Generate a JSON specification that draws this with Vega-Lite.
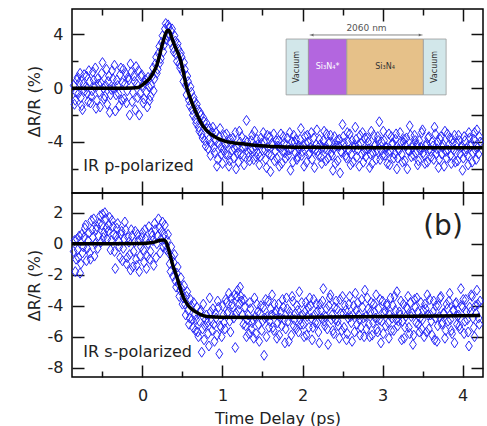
{
"$schema": "https://vega.github.io/schema/vega-lite/v6.json",
"autosize": "none",
"padding": {"left": 72, "top": 9, "right": 415, "bottom": 417},
"bounds": "flush",
"spacing": 0,
"config": {
 "concat": {"spacing": 0},
 "view": {"stroke": "black", "strokeWidth": 1.5},
 "font": "DejaVu Sans",
 "axis": {"domain": false, "grid": false, "tickColor": "#111", "tickWidth": 1.5, "labelFont": "DejaVu Sans", "labelFontSize": 16, "labelColor": "#222", "titleFont": "DejaVu Sans", "titleFontSize": 16, "titleFontWeight": "normal", "titleColor": "#222", "labelFlush": false, "labelExpr": "'' + datum.value"}
},
"datasets": {
"p": [
{"t":-0.86,"r":0.2},{"t":-0.84,"r":-0.9},{"t":-0.82,"r":0.6},{"t":-0.80,"r":-0.4},{"t":-0.78,"r":1.1},{"t":-0.76,"r":-1.3},{"t":-0.74,"r":0.3},{"t":-0.72,"r":-0.2},{"t":-0.70,"r":0.9},{"t":-0.68,"r":-1.0},{"t":-0.66,"r":0.5},{"t":-0.64,"r":-0.6},{"t":-0.62,"r":1.2},{"t":-0.60,"r":0.1},{"t":-0.58,"r":-1.5},{"t":-0.56,"r":0.7},{"t":-0.54,"r":-0.3},{"t":-0.52,"r":0.4},{"t":-0.50,"r":1.9},{"t":-0.48,"r":-0.8},{"t":-0.46,"r":0.2},{"t":-0.44,"r":-1.2},{"t":-0.42,"r":0.9},{"t":-0.40,"r":-0.5},{"t":-0.38,"r":1.3},{"t":-0.36,"r":0.0},{"t":-0.34,"r":-1.7},{"t":-0.32,"r":0.6},{"t":-0.30,"r":-0.4},{"t":-0.28,"r":1.0},{"t":-0.26,"r":-0.9},{"t":-0.24,"r":1.4},{"t":-0.22,"r":0.3},{"t":-0.20,"r":-1.1},{"t":-0.18,"r":0.8},{"t":-0.16,"r":-2.0},{"t":-0.14,"r":1.2},{"t":-0.12,"r":-0.3},{"t":-0.10,"r":0.5},{"t":-0.08,"r":1.6},{"t":-0.06,"r":-0.7},{"t":-0.04,"r":-2.0},{"t":-0.02,"r":0.9},{"t":0.00,"r":0.2},{"t":0.02,"r":-0.8},{"t":0.04,"r":0.6},{"t":0.06,"r":-1.4},{"t":0.08,"r":0.1},
{"t":0.10,"r":-0.6},{"t":0.12,"r":0.9},{"t":0.14,"r":-0.2},{"t":0.16,"r":1.8},{"t":0.18,"r":1.1},{"t":0.20,"r":2.6},{"t":0.22,"r":1.9},{"t":0.24,"r":3.4},{"t":0.26,"r":2.7},{"t":0.28,"r":4.4},{"t":0.30,"r":3.6},{"t":0.32,"r":4.7},{"t":0.34,"r":3.9},{"t":0.36,"r":4.2},{"t":0.38,"r":3.0},{"t":0.40,"r":3.9},{"t":0.42,"r":2.5},{"t":0.44,"r":3.3},{"t":0.46,"r":1.8},{"t":0.48,"r":2.6},{"t":0.50,"r":1.2},{"t":0.52,"r":1.9},{"t":0.54,"r":0.2},{"t":0.56,"r":0.9},{"t":0.58,"r":-0.9},{"t":0.60,"r":0.1},{"t":0.62,"r":-1.6},{"t":0.64,"r":-0.7},{"t":0.66,"r":-2.3},{"t":0.68,"r":-1.2},{"t":0.70,"r":-2.9},{"t":0.72,"r":-1.8},{"t":0.74,"r":-3.4},{"t":0.76,"r":-2.2},{"t":0.78,"r":-3.9},{"t":0.80,"r":-2.6},{"t":0.82,"r":-4.5},{"t":0.84,"r":-3.0},{"t":0.86,"r":-4.1},{"t":0.88,"r":-2.9},{"t":0.90,"r":-4.8},{"t":0.92,"r":-3.3},{"t":0.94,"r":-5.3},{"t":0.96,"r":-3.6},{"t":0.98,"r":-4.4},{"t":1.00,"r":-5.6},
{"t":1.02,"r":-3.5},{"t":1.04,"r":-4.9},{"t":1.06,"r":-4.1},{"t":1.08,"r":-5.8},{"t":1.10,"r":-3.8},{"t":1.12,"r":-4.6},{"t":1.14,"r":-5.2},{"t":1.16,"r":-3.3},{"t":1.18,"r":-4.4},{"t":1.20,"r":-5.5},{"t":1.22,"r":-4.0},{"t":1.24,"r":-3.6},{"t":1.26,"r":-5.0},{"t":1.28,"r":-4.3},{"t":1.30,"r":-2.4},{"t":1.32,"r":-4.8},{"t":1.34,"r":-5.4},{"t":1.36,"r":-3.9},{"t":1.38,"r":-4.5},{"t":1.40,"r":-3.2},{"t":1.42,"r":-5.1},{"t":1.44,"r":-4.2},{"t":1.46,"r":-5.7},{"t":1.48,"r":-3.7},{"t":1.50,"r":-4.6},{"t":1.52,"r":-4.0},{"t":1.54,"r":-5.3},{"t":1.56,"r":-3.5},{"t":1.58,"r":-4.9},{"t":1.60,"r":-6.2},{"t":1.62,"r":-4.1},{"t":1.64,"r":-3.4},{"t":1.66,"r":-4.7},{"t":1.68,"r":-5.2},{"t":1.70,"r":-3.9},{"t":1.72,"r":-4.4},{"t":1.74,"r":-5.6},{"t":1.76,"r":-3.6},{"t":1.78,"r":-4.8},{"t":1.80,"r":-4.2},{"t":1.82,"r":-5.0},{"t":1.84,"r":-3.3},{"t":1.86,"r":-4.5},{"t":1.88,"r":-5.5},{"t":1.90,"r":-4.0},{"t":1.92,"r":-3.8},{"t":1.94,"r":-5.1},{"t":1.96,"r":-4.3},{"t":1.98,"r":-3.0},{"t":2.00,"r":-4.7},
{"t":2.02,"r":-5.8},{"t":2.04,"r":-4.1},{"t":2.06,"r":-3.5},{"t":2.08,"r":-4.9},{"t":2.10,"r":-4.4},{"t":2.12,"r":-5.3},{"t":2.14,"r":-3.7},{"t":2.16,"r":-4.6},{"t":2.18,"r":-3.1},{"t":2.20,"r":-5.0},{"t":2.22,"r":-4.2},{"t":2.24,"r":-5.6},{"t":2.26,"r":-3.9},{"t":2.28,"r":-4.5},{"t":2.30,"r":-3.4},{"t":2.32,"r":-5.2},{"t":2.34,"r":-4.0},{"t":2.36,"r":-4.8},{"t":2.38,"r":-6.1},{"t":2.40,"r":-3.6},{"t":2.42,"r":-4.3},{"t":2.44,"r":-5.4},{"t":2.46,"r":-3.8},{"t":2.48,"r":-4.7},{"t":2.50,"r":-2.7},{"t":2.52,"r":-4.1},{"t":2.54,"r":-5.0},{"t":2.56,"r":-3.3},{"t":2.58,"r":-4.6},{"t":2.60,"r":-5.7},{"t":2.62,"r":-3.9},{"t":2.64,"r":-4.4},{"t":2.66,"r":-2.9},{"t":2.68,"r":-5.1},{"t":2.70,"r":-4.2},{"t":2.72,"r":-3.5},{"t":2.74,"r":-4.9},{"t":2.76,"r":-5.5},{"t":2.78,"r":-3.7},{"t":2.80,"r":-4.5},{"t":2.82,"r":-4.0},{"t":2.84,"r":-5.9},{"t":2.86,"r":-3.2},{"t":2.88,"r":-4.8},{"t":2.90,"r":-4.3},{"t":2.92,"r":-5.3},{"t":2.94,"r":-3.6},{"t":2.96,"r":-2.5},{"t":2.98,"r":-4.6},{"t":3.00,"r":-5.0},
{"t":3.02,"r":-3.9},{"t":3.04,"r":-4.4},{"t":3.06,"r":-5.6},{"t":3.08,"r":-3.4},{"t":3.10,"r":-4.7},{"t":3.12,"r":-4.1},{"t":3.14,"r":-5.2},{"t":3.16,"r":-3.8},{"t":3.18,"r":-6.0},{"t":3.20,"r":-4.5},{"t":3.22,"r":-3.3},{"t":3.24,"r":-4.9},{"t":3.26,"r":-4.0},{"t":3.28,"r":-5.4},{"t":3.30,"r":-3.7},{"t":3.32,"r":-4.6},{"t":3.34,"r":-2.8},{"t":3.36,"r":-5.1},{"t":3.38,"r":-4.2},{"t":3.40,"r":-3.5},{"t":3.42,"r":-4.8},{"t":3.44,"r":-5.7},{"t":3.46,"r":-3.9},{"t":3.48,"r":-4.4},{"t":3.50,"r":-3.1},{"t":3.52,"r":-5.0},{"t":3.54,"r":-4.3},{"t":3.56,"r":-5.5},{"t":3.58,"r":-3.6},{"t":3.60,"r":-4.7},{"t":3.62,"r":-4.0},{"t":3.64,"r":-5.3},{"t":3.66,"r":-3.4},{"t":3.68,"r":-4.5},{"t":3.70,"r":-5.9},{"t":3.72,"r":-3.8},{"t":3.74,"r":-4.9},{"t":3.76,"r":-4.2},{"t":3.78,"r":-3.2},{"t":3.80,"r":-5.2},{"t":3.82,"r":-4.6},{"t":3.84,"r":-3.7},{"t":3.86,"r":-5.6},{"t":3.88,"r":-4.1},{"t":3.90,"r":-3.5},{"t":3.92,"r":-4.8},{"t":3.94,"r":-5.4},{"t":3.96,"r":-3.9},{"t":3.98,"r":-4.4},{"t":4.00,"r":-6.1},
{"t":4.02,"r":-3.6},{"t":4.04,"r":-4.7},{"t":4.06,"r":-5.0},{"t":4.08,"r":-3.3},{"t":4.10,"r":-4.3},{"t":4.12,"r":-5.5},{"t":4.14,"r":-3.8},{"t":4.16,"r":-4.6},{"t":4.18,"r":-3.1},{"t":4.20,"r":-4.9},{"t":4.22,"r":-4.0},
{"t":-0.85,"r":-1.2},{"t":-0.83,"r":-0.3},{"t":-0.81,"r":0.8},{"t":-0.79,"r":0.4},{"t":-0.77,"r":-0.7},{"t":-0.75,"r":-1.6},{"t":-0.73,"r":1.0},{"t":-0.71,"r":0.1},{"t":-0.69,"r":-0.4},{"t":-0.67,"r":1.3},{"t":-0.65,"r":-1.1},{"t":-0.63,"r":-0.2},{"t":-0.61,"r":0.6},{"t":-0.59,"r":1.5},{"t":-0.57,"r":-0.9},{"t":-0.55,"r":0.3},{"t":-0.53,"r":-1.4},{"t":-0.51,"r":1.1},{"t":-0.49,"r":0.0},{"t":-0.47,"r":-0.6},{"t":-0.45,"r":1.4},{"t":-0.43,"r":0.5},{"t":-0.41,"r":-1.8},{"t":-0.39,"r":-0.1},{"t":-0.37,"r":0.7},{"t":-0.35,"r":1.7},{"t":-0.33,"r":-0.5},{"t":-0.31,"r":0.2},{"t":-0.29,"r":-1.3},{"t":-0.27,"r":1.5},{"t":-0.25,"r":0.4},{"t":-0.23,"r":-0.8},{"t":-0.21,"r":1.1},{"t":-0.19,"r":-0.2},{"t":-0.17,"r":0.6},{"t":-0.15,"r":1.8},{"t":-0.13,"r":-1.0},{"t":-0.11,"r":0.9},{"t":-0.09,"r":-1.6},{"t":-0.07,"r":0.3},{"t":-0.05,"r":1.3},{"t":-0.03,"r":-0.4},{"t":-0.01,"r":1.0},{"t":0.01,"r":-1.1},{"t":0.03,"r":0.4},{"t":0.05,"r":-0.3},{"t":0.07,"r":0.8},{"t":0.09,"r":-0.9},
{"t":0.11,"r":0.2},{"t":0.13,"r":1.5},{"t":0.15,"r":0.7},{"t":0.17,"r":2.3},{"t":0.19,"r":1.4},{"t":0.21,"r":3.1},{"t":0.23,"r":2.2},{"t":0.25,"r":3.9},{"t":0.27,"r":3.2},{"t":0.29,"r":4.8},{"t":0.31,"r":3.9},{"t":0.33,"r":4.5},{"t":0.35,"r":3.4},{"t":0.37,"r":4.4},{"t":0.39,"r":2.7},{"t":0.41,"r":3.5},{"t":0.43,"r":2.0},{"t":0.45,"r":2.9},{"t":0.47,"r":1.5},{"t":0.49,"r":2.3},{"t":0.51,"r":0.5},{"t":0.53,"r":1.4},{"t":0.55,"r":-0.5},{"t":0.57,"r":0.5},{"t":0.59,"r":-1.3},{"t":0.61,"r":-0.3},{"t":0.63,"r":-2.0},{"t":0.65,"r":-1.0},{"t":0.67,"r":-2.6},{"t":0.69,"r":-1.6},{"t":0.71,"r":-3.2},{"t":0.73,"r":-2.0},{"t":0.75,"r":-3.7},{"t":0.77,"r":-2.5},{"t":0.79,"r":-4.3},{"t":0.81,"r":-3.0},{"t":0.83,"r":-3.8},{"t":0.85,"r":-5.0},{"t":0.87,"r":-3.3},{"t":0.89,"r":-4.4},{"t":0.91,"r":-3.9},{"t":0.93,"r":-5.8},{"t":0.95,"r":-4.1},{"t":0.97,"r":-3.0},{"t":0.99,"r":-4.9},
{"t":1.01,"r":-4.6},{"t":1.03,"r":-4.2},{"t":1.05,"r":-3.4},{"t":1.07,"r":-5.0},{"t":1.09,"r":-5.4},{"t":1.11,"r":-4.1},{"t":1.13,"r":-3.7},{"t":1.15,"r":-4.5},{"t":1.17,"r":-6.0},{"t":1.19,"r":-4.8},{"t":1.21,"r":-3.2},{"t":1.23,"r":-4.9},{"t":1.25,"r":-4.4},{"t":1.27,"r":-5.7},{"t":1.29,"r":-3.9},{"t":1.31,"r":-4.0},{"t":1.33,"r":-5.1},{"t":1.35,"r":-4.6},{"t":1.37,"r":-3.5},{"t":1.39,"r":-5.3},{"t":1.41,"r":-4.3},{"t":1.43,"r":-3.8},{"t":1.45,"r":-4.9},{"t":1.47,"r":-5.1},{"t":1.49,"r":-4.1},{"t":1.51,"r":-3.3},{"t":1.53,"r":-4.6},{"t":1.55,"r":-5.9},{"t":1.57,"r":-4.4},{"t":1.59,"r":-3.6},{"t":1.61,"r":-5.0},{"t":1.63,"r":-4.2},{"t":1.65,"r":-5.4},{"t":1.67,"r":-3.9},{"t":1.69,"r":-4.3},{"t":1.71,"r":-5.8},{"t":1.73,"r":-3.4},{"t":1.75,"r":-4.7},{"t":1.77,"r":-4.1},{"t":1.79,"r":-5.2},{"t":1.81,"r":-3.7},{"t":1.83,"r":-4.6},{"t":1.85,"r":-6.1},{"t":1.87,"r":-4.0},{"t":1.89,"r":-3.5},{"t":1.91,"r":-4.8},{"t":1.93,"r":-5.3},{"t":1.95,"r":-4.5},{"t":1.97,"r":-3.8},{"t":1.99,"r":-5.0},
{"t":2.01,"r":-4.3},{"t":2.03,"r":-3.6},{"t":2.05,"r":-5.5},{"t":2.07,"r":-4.0},{"t":2.09,"r":-4.8},{"t":2.11,"r":-3.3},{"t":2.13,"r":-4.5},{"t":2.15,"r":-5.9},{"t":2.17,"r":-4.2},{"t":2.19,"r":-4.7},{"t":2.21,"r":-3.8},{"t":2.23,"r":-5.1},{"t":2.25,"r":-4.4},{"t":2.27,"r":-3.2},{"t":2.29,"r":-5.4},{"t":2.31,"r":-4.6},{"t":2.33,"r":-4.1},{"t":2.35,"r":-3.5},{"t":2.37,"r":-5.0},{"t":2.39,"r":-4.5},{"t":2.41,"r":-5.6},{"t":2.43,"r":-3.9},{"t":2.45,"r":-4.3},{"t":2.47,"r":-6.3},{"t":2.49,"r":-4.8},{"t":2.51,"r":-3.6},{"t":2.53,"r":-4.4},{"t":2.55,"r":-5.2},{"t":2.57,"r":-4.0},{"t":2.59,"r":-3.4},{"t":2.61,"r":-4.9},{"t":2.63,"r":-5.5},{"t":2.65,"r":-4.2},{"t":2.67,"r":-3.8},{"t":2.69,"r":-4.6},{"t":2.71,"r":-5.8},{"t":2.73,"r":-4.1},{"t":2.75,"r":-3.3},{"t":2.77,"r":-4.7},{"t":2.79,"r":-5.1},{"t":2.81,"r":-3.7},{"t":2.83,"r":-4.5},{"t":2.85,"r":-4.9},{"t":2.87,"r":-5.6},{"t":2.89,"r":-3.5},{"t":2.91,"r":-4.2},{"t":2.93,"r":-4.6},{"t":2.95,"r":-3.9},{"t":2.97,"r":-5.3},{"t":2.99,"r":-4.0},
{"t":3.01,"r":-3.2},{"t":3.03,"r":-5.0},{"t":3.05,"r":-4.4},{"t":3.07,"r":-4.8},{"t":3.09,"r":-5.7},{"t":3.11,"r":-3.6},{"t":3.13,"r":-4.1},{"t":3.15,"r":-4.9},{"t":3.17,"r":-3.4},{"t":3.19,"r":-5.2},{"t":3.21,"r":-4.6},{"t":3.23,"r":-4.0},{"t":3.25,"r":-5.5},{"t":3.27,"r":-3.8},{"t":3.29,"r":-4.3},{"t":3.31,"r":-6.0},{"t":3.33,"r":-4.7},{"t":3.35,"r":-3.5},{"t":3.37,"r":-4.4},{"t":3.39,"r":-5.0},{"t":3.41,"r":-3.9},{"t":3.43,"r":-4.2},{"t":3.45,"r":-5.4},{"t":3.47,"r":-4.6},{"t":3.49,"r":-3.3},{"t":3.51,"r":-4.8},{"t":3.53,"r":-5.6},{"t":3.55,"r":-4.1},{"t":3.57,"r":-3.7},{"t":3.59,"r":-4.5},{"t":3.61,"r":-5.1},{"t":3.63,"r":-4.3},{"t":3.65,"r":-2.9},{"t":3.67,"r":-4.9},{"t":3.69,"r":-4.0},{"t":3.71,"r":-5.3},{"t":3.73,"r":-3.6},{"t":3.75,"r":-4.4},{"t":3.77,"r":-5.8},{"t":3.79,"r":-4.7},{"t":3.81,"r":-3.4},{"t":3.83,"r":-4.2},{"t":3.85,"r":-5.0},{"t":3.87,"r":-3.8},{"t":3.89,"r":-4.6},{"t":3.91,"r":-5.5},{"t":3.93,"r":-4.1},{"t":3.95,"r":-3.5},{"t":3.97,"r":-4.9},{"t":3.99,"r":-4.3},
{"t":4.01,"r":-5.2},{"t":4.03,"r":-3.9},{"t":4.05,"r":-4.5},{"t":4.07,"r":-5.7},{"t":4.09,"r":-3.7},{"t":4.11,"r":-4.1},{"t":4.13,"r":-4.8},{"t":4.15,"r":-3.3},{"t":4.17,"r":-5.3},{"t":4.19,"r":-4.4},{"t":4.21,"r":-3.6}
],
"pf": [
{"t":-0.88,"r":0},{"t":-0.5,"r":0},{"t":-0.2,"r":0},{"t":-0.05,"r":0.05},{"t":0.0,"r":0.25},{"t":0.05,"r":0.5},{"t":0.09,"r":0.73},{"t":0.13,"r":1.1},{"t":0.18,"r":1.72},{"t":0.21,"r":2.35},{"t":0.24,"r":3.08},{"t":0.27,"r":3.7},{"t":0.29,"r":4.07},{"t":0.32,"r":4.3},{"t":0.34,"r":4.2},{"t":0.36,"r":3.85},{"t":0.40,"r":3.2},{"t":0.44,"r":2.65},{"t":0.48,"r":2.0},{"t":0.51,"r":1.2},{"t":0.55,"r":0.1},{"t":0.60,"r":-0.8},{"t":0.64,"r":-1.4},{"t":0.70,"r":-2.2},{"t":0.76,"r":-2.85},{"t":0.85,"r":-3.4},{"t":0.93,"r":-3.7},{"t":1.05,"r":-3.97},{"t":1.22,"r":-4.12},{"t":1.40,"r":-4.25},{"t":1.60,"r":-4.33},{"t":2.0,"r":-4.4},{"t":3.0,"r":-4.43},{"t":4.25,"r":-4.43}
],
"s": [
{"t":-0.86,"r":-0.5},{"t":-0.84,"r":-1.8},{"t":-0.82,"r":0.3},{"t":-0.80,"r":-0.9},{"t":-0.78,"r":-1.9},{"t":-0.76,"r":0.6},{"t":-0.74,"r":-0.2},{"t":-0.72,"r":1.0},{"t":-0.70,"r":-1.1},{"t":-0.68,"r":0.2},{"t":-0.66,"r":-0.6},{"t":-0.64,"r":1.5},{"t":-0.62,"r":0.4},{"t":-0.60,"r":-0.8},{"t":-0.58,"r":0.9},{"t":-0.56,"r":-0.3},{"t":-0.54,"r":1.3},{"t":-0.52,"r":0.1},{"t":-0.50,"r":1.9},{"t":-0.48,"r":0.7},{"t":-0.46,"r":1.6},{"t":-0.44,"r":0.3},{"t":-0.42,"r":1.2},{"t":-0.40,"r":-0.4},{"t":-0.38,"r":1.5},{"t":-0.36,"r":0.6},{"t":-0.34,"r":-1.6},{"t":-0.32,"r":1.0},{"t":-0.30,"r":0.2},{"t":-0.28,"r":-0.9},{"t":-0.26,"r":0.8},{"t":-0.24,"r":-0.3},{"t":-0.22,"r":1.4},{"t":-0.20,"r":-1.3},{"t":-0.18,"r":0.4},{"t":-0.16,"r":-0.7},{"t":-0.14,"r":0.9},{"t":-0.12,"r":-1.5},{"t":-0.10,"r":0.1},{"t":-0.08,"r":-1.0},{"t":-0.06,"r":0.6},{"t":-0.04,"r":-1.8},{"t":-0.02,"r":-0.2},{"t":0.00,"r":0.7},{"t":0.02,"r":-1.2},{"t":0.04,"r":0.3},{"t":0.06,"r":-0.8},{"t":0.08,"r":1.1},{"t":0.10,"r":-0.5},{"t":0.12,"r":0.5},{"t":0.14,"r":-1.4},{"t":0.16,"r":0.9},{"t":0.18,"r":0.0},{"t":0.20,"r":1.6},{"t":0.22,"r":-0.6},{"t":0.24,"r":0.8},{"t":0.26,"r":-0.2},{"t":0.28,"r":1.2},
{"t":0.30,"r":-0.4},{"t":0.32,"r":0.6},{"t":0.34,"r":-1.3},{"t":0.36,"r":-0.2},{"t":0.38,"r":-2.1},{"t":0.40,"r":-0.7},{"t":0.42,"r":-2.8},{"t":0.44,"r":-1.5},{"t":0.46,"r":-3.4},{"t":0.48,"r":-2.2},{"t":0.50,"r":-3.9},{"t":0.52,"r":-2.7},{"t":0.54,"r":-4.6},{"t":0.56,"r":-3.1},{"t":0.58,"r":-5.2},{"t":0.60,"r":-3.6},{"t":0.62,"r":-4.9},{"t":0.64,"r":-3.8},{"t":0.66,"r":-5.6},{"t":0.68,"r":-4.1},{"t":0.70,"r":-6.0},{"t":0.72,"r":-4.4},{"t":0.74,"r":-7.0},{"t":0.76,"r":-3.9},{"t":0.78,"r":-5.3},{"t":0.80,"r":-4.6},{"t":0.82,"r":-5.8},{"t":0.84,"r":-3.5},{"t":0.86,"r":-5.0},{"t":0.88,"r":-4.2},{"t":0.90,"r":-6.3},{"t":0.92,"r":-4.8},{"t":0.94,"r":-3.7},{"t":0.96,"r":-7.1},{"t":0.98,"r":-5.4},{"t":1.00,"r":-4.0},
{"t":1.02,"r":-5.1},{"t":1.04,"r":-3.6},{"t":1.06,"r":-4.5},{"t":1.08,"r":-3.2},{"t":1.10,"r":-5.7},{"t":1.12,"r":-3.9},{"t":1.14,"r":-4.8},{"t":1.16,"r":-6.7},{"t":1.18,"r":-3.4},{"t":1.20,"r":-4.3},{"t":1.22,"r":-2.8},{"t":1.24,"r":-3.7},{"t":1.26,"r":-5.2},{"t":1.28,"r":-4.1},{"t":1.30,"r":-6.0},{"t":1.32,"r":-4.6},{"t":1.34,"r":-3.8},{"t":1.36,"r":-5.5},{"t":1.38,"r":-4.9},{"t":1.40,"r":-3.5},{"t":1.42,"r":-5.8},{"t":1.44,"r":-4.4},{"t":1.46,"r":-6.3},{"t":1.48,"r":-4.0},{"t":1.50,"r":-5.0},{"t":1.52,"r":-7.2},{"t":1.54,"r":-3.6},{"t":1.56,"r":-4.7},{"t":1.58,"r":-5.4},{"t":1.60,"r":-4.2},{"t":1.62,"r":-3.3},{"t":1.64,"r":-5.6},{"t":1.66,"r":-4.5},{"t":1.68,"r":-6.1},{"t":1.70,"r":-3.9},{"t":1.72,"r":-4.8},{"t":1.74,"r":-5.3},{"t":1.76,"r":-4.1},{"t":1.78,"r":-6.4},{"t":1.80,"r":-3.5},{"t":1.82,"r":-5.0},{"t":1.84,"r":-4.4},{"t":1.86,"r":-5.9},{"t":1.88,"r":-3.7},{"t":1.90,"r":-4.9},{"t":1.92,"r":-5.5},{"t":1.94,"r":-4.3},{"t":1.96,"r":-3.1},{"t":1.98,"r":-5.2},{"t":2.00,"r":-4.6},
{"t":2.02,"r":-6.0},{"t":2.04,"r":-3.8},{"t":2.06,"r":-4.7},{"t":2.08,"r":-5.4},{"t":2.10,"r":-4.0},{"t":2.12,"r":-6.2},{"t":2.14,"r":-3.6},{"t":2.16,"r":-5.1},{"t":2.18,"r":-4.4},{"t":2.20,"r":-5.7},{"t":2.22,"r":-3.9},{"t":2.24,"r":-4.8},{"t":2.26,"r":-2.9},{"t":2.28,"r":-5.3},{"t":2.30,"r":-4.2},{"t":2.32,"r":-6.5},{"t":2.34,"r":-3.5},{"t":2.36,"r":-4.9},{"t":2.38,"r":-5.6},{"t":2.40,"r":-4.1},{"t":2.42,"r":-3.7},{"t":2.44,"r":-5.0},{"t":2.46,"r":-6.1},{"t":2.48,"r":-4.5},{"t":2.50,"r":-3.4},{"t":2.52,"r":-5.4},{"t":2.54,"r":-4.3},{"t":2.56,"r":-5.8},{"t":2.58,"r":-3.9},{"t":2.60,"r":-4.7},{"t":2.62,"r":-6.3},{"t":2.64,"r":-4.0},{"t":2.66,"r":-3.2},{"t":2.68,"r":-5.2},{"t":2.70,"r":-4.6},{"t":2.72,"r":-5.9},{"t":2.74,"r":-3.6},{"t":2.76,"r":-4.8},{"t":2.78,"r":-3.0},{"t":2.80,"r":-5.5},{"t":2.82,"r":-4.2},{"t":2.84,"r":-6.0},{"t":2.86,"r":-3.8},{"t":2.88,"r":-5.1},{"t":2.90,"r":-4.4},{"t":2.92,"r":-3.3},{"t":2.94,"r":-5.7},{"t":2.96,"r":-4.9},{"t":2.98,"r":-6.4},{"t":3.00,"r":-3.7},
{"t":3.02,"r":-4.5},{"t":3.04,"r":-5.3},{"t":3.06,"r":-4.0},{"t":3.08,"r":-6.1},{"t":3.10,"r":-3.5},{"t":3.12,"r":-4.8},{"t":3.14,"r":-5.6},{"t":3.16,"r":-4.3},{"t":3.18,"r":-3.1},{"t":3.20,"r":-5.0},{"t":3.22,"r":-4.6},{"t":3.24,"r":-6.2},{"t":3.26,"r":-3.9},{"t":3.28,"r":-5.4},{"t":3.30,"r":-4.1},{"t":3.32,"r":-3.4},{"t":3.34,"r":-5.8},{"t":3.36,"r":-4.7},{"t":3.38,"r":-6.5},{"t":3.40,"r":-3.6},{"t":3.42,"r":-5.1},{"t":3.44,"r":-4.4},{"t":3.46,"r":-5.7},{"t":3.48,"r":-3.8},{"t":3.50,"r":-4.9},{"t":3.52,"r":-6.0},{"t":3.54,"r":-4.2},{"t":3.56,"r":-3.3},{"t":3.58,"r":-5.5},{"t":3.60,"r":-4.6},{"t":3.62,"r":-5.9},{"t":3.64,"r":-3.7},{"t":3.66,"r":-4.8},{"t":3.68,"r":-6.3},{"t":3.70,"r":-4.0},{"t":3.72,"r":-3.5},{"t":3.74,"r":-5.2},{"t":3.76,"r":-4.5},{"t":3.78,"r":-6.1},{"t":3.80,"r":-3.9},{"t":3.82,"r":-5.0},{"t":3.84,"r":-3.2},{"t":3.86,"r":-5.6},{"t":3.88,"r":-4.3},{"t":3.90,"r":-6.4},{"t":3.92,"r":-3.8},{"t":3.94,"r":-4.7},{"t":3.96,"r":-5.3},{"t":3.98,"r":-2.9},{"t":4.00,"r":-4.1},
{"t":4.02,"r":-5.8},{"t":4.04,"r":-3.6},{"t":4.06,"r":-4.9},{"t":4.08,"r":-6.6},{"t":4.10,"r":-4.4},{"t":4.12,"r":-3.4},{"t":4.14,"r":-5.4},{"t":4.16,"r":-4.0},{"t":4.18,"r":-3.0},{"t":4.20,"r":-4.8},{"t":4.22,"r":-3.7},
{"t":-0.85,"r":0.2},{"t":-0.83,"r":-1.0},{"t":-0.81,"r":-0.4},{"t":-0.79,"r":0.5},{"t":-0.77,"r":-1.3},{"t":-0.75,"r":-0.6},{"t":-0.73,"r":0.4},{"t":-0.71,"r":1.2},{"t":-0.69,"r":-0.3},{"t":-0.67,"r":0.7},{"t":-0.65,"r":-1.0},{"t":-0.63,"r":0.9},{"t":-0.61,"r":1.6},{"t":-0.59,"r":0.0},{"t":-0.57,"r":1.1},{"t":-0.55,"r":0.5},{"t":-0.53,"r":1.8},{"t":-0.51,"r":1.2},{"t":-0.49,"r":0.4},{"t":-0.47,"r":2.0},{"t":-0.45,"r":1.0},{"t":-0.43,"r":0.8},{"t":-0.41,"r":1.7},{"t":-0.39,"r":0.2},{"t":-0.37,"r":1.1},{"t":-0.35,"r":-0.5},{"t":-0.33,"r":0.5},{"t":-0.31,"r":1.3},{"t":-0.29,"r":-0.2},{"t":-0.27,"r":0.6},{"t":-0.25,"r":-1.1},{"t":-0.23,"r":0.3},{"t":-0.21,"r":0.9},{"t":-0.19,"r":-0.9},{"t":-0.17,"r":0.1},{"t":-0.15,"r":-1.7},{"t":-0.13,"r":0.5},{"t":-0.11,"r":-0.5},{"t":-0.09,"r":0.8},{"t":-0.07,"r":-1.4},{"t":-0.05,"r":0.2},{"t":-0.03,"r":-0.8},{"t":-0.01,"r":0.4},{"t":0.01,"r":-0.4},{"t":0.03,"r":0.9},{"t":0.05,"r":-1.6},{"t":0.07,"r":0.0},{"t":0.09,"r":-1.0},{"t":0.11,"r":0.7},{"t":0.13,"r":0.2},{"t":0.15,"r":1.3},{"t":0.17,"r":-0.9},{"t":0.19,"r":0.5},{"t":0.21,"r":1.0},{"t":0.23,"r":0.3},{"t":0.25,"r":1.4},{"t":0.27,"r":0.6},{"t":0.29,"r":-0.1},
{"t":0.31,"r":0.2},{"t":0.33,"r":-0.6},{"t":0.35,"r":-1.8},{"t":0.37,"r":-0.9},{"t":0.39,"r":-1.2},{"t":0.41,"r":-2.4},{"t":0.43,"r":-1.9},{"t":0.45,"r":-2.6},{"t":0.47,"r":-3.0},{"t":0.49,"r":-2.9},{"t":0.51,"r":-3.5},{"t":0.53,"r":-3.9},{"t":0.55,"r":-3.4},{"t":0.57,"r":-4.3},{"t":0.59,"r":-4.8},{"t":0.61,"r":-4.0},{"t":0.63,"r":-5.4},{"t":0.65,"r":-4.6},{"t":0.67,"r":-4.9},{"t":0.69,"r":-5.7},{"t":0.71,"r":-5.0},{"t":0.73,"r":-4.3},{"t":0.75,"r":-5.5},{"t":0.77,"r":-6.2},{"t":0.79,"r":-4.9},{"t":0.81,"r":-5.1},{"t":0.83,"r":-6.6},{"t":0.85,"r":-4.4},{"t":0.87,"r":-5.6},{"t":0.89,"r":-5.2},{"t":0.91,"r":-4.5},{"t":0.93,"r":-5.9},{"t":0.95,"r":-4.1},{"t":0.97,"r":-5.3},{"t":0.99,"r":-6.0},
{"t":1.01,"r":-4.6},{"t":1.03,"r":-5.5},{"t":1.05,"r":-3.8},{"t":1.07,"r":-4.4},{"t":1.09,"r":-5.0},{"t":1.11,"r":-3.5},{"t":1.13,"r":-4.1},{"t":1.15,"r":-3.3},{"t":1.17,"r":-4.5},{"t":1.19,"r":-3.0},{"t":1.21,"r":-3.9},{"t":1.23,"r":-3.4},{"t":1.25,"r":-4.6},{"t":1.27,"r":-3.6},{"t":1.29,"r":-5.3},{"t":1.31,"r":-4.9},{"t":1.33,"r":-5.8},{"t":1.35,"r":-4.2},{"t":1.37,"r":-5.1},{"t":1.39,"r":-6.1},{"t":1.41,"r":-4.7},{"t":1.43,"r":-3.9},{"t":1.45,"r":-5.2},{"t":1.47,"r":-4.5},{"t":1.49,"r":-5.6},{"t":1.51,"r":-4.1},{"t":1.53,"r":-4.8},{"t":1.55,"r":-6.0},{"t":1.57,"r":-3.7},{"t":1.59,"r":-5.0},{"t":1.61,"r":-4.6},{"t":1.63,"r":-5.4},{"t":1.65,"r":-3.9},{"t":1.67,"r":-4.3},{"t":1.69,"r":-5.1},{"t":1.71,"r":-5.9},{"t":1.73,"r":-4.4},{"t":1.75,"r":-3.6},{"t":1.77,"r":-4.9},{"t":1.79,"r":-5.5},{"t":1.81,"r":-4.2},{"t":1.83,"r":-6.3},{"t":1.85,"r":-4.7},{"t":1.87,"r":-3.4},{"t":1.89,"r":-5.3},{"t":1.91,"r":-4.5},{"t":1.93,"r":-4.0},{"t":1.95,"r":-5.7},{"t":1.97,"r":-4.9},{"t":1.99,"r":-3.8},
{"t":2.01,"r":-5.2},{"t":2.03,"r":-4.4},{"t":2.05,"r":-5.9},{"t":2.07,"r":-4.1},{"t":2.09,"r":-3.5},{"t":2.11,"r":-4.8},{"t":2.13,"r":-5.4},{"t":2.15,"r":-4.6},{"t":2.17,"r":-3.9},{"t":2.19,"r":-5.1},{"t":2.21,"r":-6.4},{"t":2.23,"r":-4.3},{"t":2.25,"r":-3.7},{"t":2.27,"r":-5.0},{"t":2.29,"r":-4.7},{"t":2.31,"r":-5.5},{"t":2.33,"r":-4.0},{"t":2.35,"r":-3.3},{"t":2.37,"r":-4.6},{"t":2.39,"r":-5.8},{"t":2.41,"r":-4.9},{"t":2.43,"r":-4.2},{"t":2.45,"r":-5.3},{"t":2.47,"r":-3.6},{"t":2.49,"r":-5.6},{"t":2.51,"r":-4.5},{"t":2.53,"r":-4.0},{"t":2.55,"r":-6.2},{"t":2.57,"r":-4.8},{"t":2.59,"r":-3.4},{"t":2.61,"r":-5.1},{"t":2.63,"r":-4.6},{"t":2.65,"r":-5.7},{"t":2.67,"r":-4.3},{"t":2.69,"r":-3.8},{"t":2.71,"r":-4.9},{"t":2.73,"r":-5.4},{"t":2.75,"r":-4.1},{"t":2.77,"r":-6.0},{"t":2.79,"r":-4.7},{"t":2.81,"r":-3.5},{"t":2.83,"r":-5.2},{"t":2.85,"r":-4.4},{"t":2.87,"r":-5.9},{"t":2.89,"r":-3.9},{"t":2.91,"r":-4.8},{"t":2.93,"r":-5.5},{"t":2.95,"r":-4.2},{"t":2.97,"r":-3.6},{"t":2.99,"r":-5.0},
{"t":3.01,"r":-5.8},{"t":3.03,"r":-4.3},{"t":3.05,"r":-3.9},{"t":3.07,"r":-5.1},{"t":3.09,"r":-4.6},{"t":3.11,"r":-5.6},{"t":3.13,"r":-4.0},{"t":3.15,"r":-3.4},{"t":3.17,"r":-4.9},{"t":3.19,"r":-5.3},{"t":3.21,"r":-4.4},{"t":3.23,"r":-3.7},{"t":3.25,"r":-5.0},{"t":3.27,"r":-6.1},{"t":3.29,"r":-4.7},{"t":3.31,"r":-4.2},{"t":3.33,"r":-5.4},{"t":3.35,"r":-3.8},{"t":3.37,"r":-4.5},{"t":3.39,"r":-5.9},{"t":3.41,"r":-4.1},{"t":3.43,"r":-3.5},{"t":3.45,"r":-5.2},{"t":3.47,"r":-4.8},{"t":3.49,"r":-5.5},{"t":3.51,"r":-4.3},{"t":3.53,"r":-3.9},{"t":3.55,"r":-5.7},{"t":3.57,"r":-4.6},{"t":3.59,"r":-3.6},{"t":3.61,"r":-5.0},{"t":3.63,"r":-4.4},{"t":3.65,"r":-6.2},{"t":3.67,"r":-4.0},{"t":3.69,"r":-5.3},{"t":3.71,"r":-4.7},{"t":3.73,"r":-3.4},{"t":3.75,"r":-5.1},{"t":3.77,"r":-4.5},{"t":3.79,"r":-5.6},{"t":3.81,"r":-4.2},{"t":3.83,"r":-3.7},{"t":3.85,"r":-4.9},{"t":3.87,"r":-5.8},{"t":3.89,"r":-4.3},{"t":3.91,"r":-3.9},{"t":3.93,"r":-5.2},{"t":3.95,"r":-4.6},{"t":3.97,"r":-5.5},{"t":3.99,"r":-4.0},
{"t":4.01,"r":-3.6},{"t":4.03,"r":-5.0},{"t":4.05,"r":-4.4},{"t":4.07,"r":-5.7},{"t":4.09,"r":-4.1},{"t":4.11,"r":-3.3},{"t":4.13,"r":-4.8},{"t":4.15,"r":-6.0},{"t":4.17,"r":-4.5},{"t":4.19,"r":-3.9},{"t":4.21,"r":-5.2}
],
"sf": [
{"t":-0.88,"r":0},{"t":-0.5,"r":0},{"t":0.0,"r":0.02},{"t":0.1,"r":0.06},{"t":0.16,"r":0.12},{"t":0.22,"r":0.22},{"t":0.26,"r":0.24},{"t":0.29,"r":0.15},{"t":0.32,"r":-0.25},{"t":0.34,"r":-0.64},{"t":0.38,"r":-1.4},{"t":0.43,"r":-2.15},{"t":0.47,"r":-2.85},{"t":0.51,"r":-3.45},{"t":0.56,"r":-3.9},{"t":0.60,"r":-4.15},{"t":0.64,"r":-4.32},{"t":0.70,"r":-4.5},{"t":0.76,"r":-4.64},{"t":0.85,"r":-4.72},{"t":0.97,"r":-4.75},{"t":1.5,"r":-4.76},{"t":2.0,"r":-4.74},{"t":3.0,"r":-4.69},{"t":4.22,"r":-4.64}
],
"inset": [
{"material":"Vacuum","x0":1.795,"x1":2.074},
{"material":"Si₃N₄*","x0":2.074,"x1":2.554},
{"material":"Si₃N₄","x0":2.554,"x1":3.511},
{"material":"Vacuum","x0":3.511,"x1":3.795}
]
},
"vconcat": [
{
 "width": 411, "height": 184,
 "resolve": {"axis": {"x": "independent", "y": "independent"}},
 "layer": [
  {"data": {"name": "p"},
   "mark": {"type": "point", "shape": "M0,-1L0.68,0L0,1L-0.68,0Z", "size": 100, "filled": false, "stroke": "#2828f8", "strokeWidth": 1, "opacity": 1},
   "encoding": {
    "x": {"field": "t", "type": "quantitative", "scale": {"domain": [-0.881, 4.256], "nice": false, "zero": false}, "axis": {"orient": "bottom", "values": [0,1,2,3,4], "tickSize": -12, "labels": false, "title": null}},
    "y": {"field": "r", "type": "quantitative", "scale": {"domain": [-7.79, 5.88], "nice": false, "zero": false}, "axis": {"orient": "left", "values": [-4,0,4], "tickSize": -12, "labelPadding": 21, "title": "ΔR/R (%)", "titleX": -38, "titleBaseline": "middle"}}
   }},
  {"data": {"name": "pf"},
   "mark": {"type": "line", "color": "black", "strokeWidth": 3.5, "interpolate": "monotone"},
   "encoding": {
    "x": {"field": "t", "type": "quantitative", "scale": {"domain": [-0.881, 4.256], "nice": false, "zero": false}, "axis": {"orient": "top", "values": [0,1,2,3,4], "tickSize": -12, "labels": false, "title": null}},
    "y": {"field": "r", "type": "quantitative", "scale": {"domain": [-7.79, 5.88], "nice": false, "zero": false}, "axis": {"orient": "right", "values": [-6,-4,-2,0,2,4], "tickSize": -12, "labels": false, "title": null}}
   }},
  {"data": {"values": [{"label": "IR p-polarized"}]},
   "mark": {"type": "text", "align": "left", "baseline": "middle", "fontSize": 16, "font": "DejaVu Sans", "color": "#222"},
   "encoding": {
    "text": {"field": "label"},
    "x": {"datum": -0.74, "type": "quantitative", "scale": {"domain": [-0.881, 4.256], "nice": false, "zero": false}, "axis": {"orient": "bottom", "values": [-0.5,0.5,1.5,2.5,3.5], "tickSize": -6, "labels": false, "title": null}},
    "y": {"datum": -5.8, "type": "quantitative", "scale": {"domain": [-7.79, 5.88], "nice": false, "zero": false}, "axis": {"orient": "left", "values": [-6,-2,2], "tickSize": -6, "labels": false, "title": null}}
   }},
  {"data": {"name": "inset"},
   "mark": {"type": "rect", "stroke": "#9a9a9a", "strokeWidth": 0.8},
   "encoding": {
    "x": {"field": "x0", "type": "quantitative", "scale": {"domain": [-0.881, 4.256], "nice": false, "zero": false}, "axis": {"orient": "top", "values": [-0.5,0.5,1.5,2.5,3.5], "tickSize": -6, "labels": false, "title": null}},
    "x2": {"field": "x1"},
    "y": {"datum": -0.5, "type": "quantitative", "scale": {"domain": [-7.79, 5.88], "nice": false, "zero": false}, "axis": null},
    "y2": {"datum": 3.65},
    "color": {"field": "material", "type": "nominal", "scale": {"domain": ["Vacuum", "Si₃N₄*", "Si₃N₄"], "range": ["#d2e7ea", "#b366df", "#e6c189"]}, "legend": null}
   }},
  {"data": {"name": "inset"},
   "transform": [{"filter": "datum.material == 'Vacuum'"}, {"calculate": "(datum.x0 + datum.x1) / 2", "as": "xc"}],
   "mark": {"type": "text", "angle": 270, "fontSize": 8, "color": "#333", "align": "center", "baseline": "middle"},
   "encoding": {
    "text": {"field": "material"},
    "x": {"field": "xc", "type": "quantitative", "scale": {"domain": [-0.881, 4.256], "nice": false, "zero": false}, "axis": null},
    "y": {"datum": 1.575, "type": "quantitative", "scale": {"domain": [-7.79, 5.88], "nice": false, "zero": false}, "axis": null}
   }},
  {"data": {"name": "inset"},
   "transform": [{"filter": "datum.material != 'Vacuum'"}, {"calculate": "(datum.x0 + datum.x1) / 2", "as": "xc"}],
   "mark": {"type": "text", "fontSize": 8, "align": "center", "baseline": "middle"},
   "encoding": {
    "text": {"field": "material"},
    "color": {"condition": {"test": "datum.material == 'Si₃N₄*'", "value": "white"}, "value": "#333"},
    "x": {"field": "xc", "type": "quantitative", "scale": {"domain": [-0.881, 4.256], "nice": false, "zero": false}, "axis": null},
    "y": {"datum": 1.575, "type": "quantitative", "scale": {"domain": [-7.79, 5.88], "nice": false, "zero": false}, "axis": null}
   }},
  {"data": {"values": [{"a": 2.09, "b": 3.5}]},
   "mark": {"type": "rule", "color": "#666", "strokeWidth": 0.8},
   "encoding": {
    "x": {"field": "a", "type": "quantitative", "scale": {"domain": [-0.881, 4.256], "nice": false, "zero": false}, "axis": null},
    "x2": {"field": "b"},
    "y": {"datum": 3.95, "type": "quantitative", "scale": {"domain": [-7.79, 5.88], "nice": false, "zero": false}, "axis": null}
   }},
  {"data": {"values": [{"a": 2.12, "end": "start"}, {"a": 3.47, "end": "end"}]},
   "mark": {"type": "point", "filled": true, "size": 10, "color": "#666", "opacity": 1},
   "encoding": {
    "shape": {"field": "end", "type": "nominal", "scale": {"domain": ["start", "end"], "range": ["triangle-left", "triangle-right"]}, "legend": null},
    "x": {"field": "a", "type": "quantitative", "scale": {"domain": [-0.881, 4.256], "nice": false, "zero": false}, "axis": null},
    "y": {"datum": 3.95, "type": "quantitative", "scale": {"domain": [-7.79, 5.88], "nice": false, "zero": false}, "axis": null}
   }},
  {"data": {"values": [{"label": "2060 nm"}]},
   "mark": {"type": "text", "fontSize": 9, "color": "#555", "align": "center", "baseline": "middle"},
   "encoding": {
    "text": {"field": "label"},
    "x": {"datum": 2.8, "type": "quantitative", "scale": {"domain": [-0.881, 4.256], "nice": false, "zero": false}, "axis": null},
    "y": {"datum": 4.45, "type": "quantitative", "scale": {"domain": [-7.79, 5.88], "nice": false, "zero": false}, "axis": null}
   }}
 ]
},
{
 "width": 411, "height": 184,
 "resolve": {"axis": {"x": "independent", "y": "independent"}},
 "layer": [
  {"data": {"name": "s"},
   "mark": {"type": "point", "shape": "M0,-1L0.68,0L0,1L-0.68,0Z", "size": 100, "filled": false, "stroke": "#2828f8", "strokeWidth": 1, "opacity": 1},
   "encoding": {
    "x": {"field": "t", "type": "quantitative", "scale": {"domain": [-0.881, 4.256], "nice": false, "zero": false}, "axis": {"orient": "bottom", "values": [0,1,2,3,4], "tickSize": -12, "labelPadding": 22, "title": "Time Delay (ps)", "titleY": 33, "titleBaseline": "top"}},
    "y": {"field": "r", "type": "quantitative", "scale": {"domain": [-8.6, 3.27], "nice": false, "zero": false}, "axis": {"orient": "left", "values": [-8,-6,-4,-2,0,2], "tickSize": -12, "labelPadding": 21, "title": "ΔR/R (%)", "titleX": -38, "titleBaseline": "middle"}}
   }},
  {"data": {"name": "sf"},
   "mark": {"type": "line", "color": "black", "strokeWidth": 3.5, "interpolate": "monotone"},
   "encoding": {
    "x": {"field": "t", "type": "quantitative", "scale": {"domain": [-0.881, 4.256], "nice": false, "zero": false}, "axis": {"orient": "top", "values": [0,1,2,3,4], "tickSize": -12, "labels": false, "title": null}},
    "y": {"field": "r", "type": "quantitative", "scale": {"domain": [-8.6, 3.27], "nice": false, "zero": false}, "axis": {"orient": "right", "values": [-8,-6,-4,-2,0,2], "tickSize": -12, "labels": false, "title": null}}
   }},
  {"data": {"values": [{"label": "IR s-polarized"}]},
   "mark": {"type": "text", "align": "left", "baseline": "middle", "fontSize": 16, "font": "DejaVu Sans", "color": "#222"},
   "encoding": {
    "text": {"field": "label"},
    "x": {"datum": -0.74, "type": "quantitative", "scale": {"domain": [-0.881, 4.256], "nice": false, "zero": false}, "axis": {"orient": "bottom", "values": [-0.5,0.5,1.5,2.5,3.5], "tickSize": -6, "labels": false, "title": null}},
    "y": {"datum": -7.0, "type": "quantitative", "scale": {"domain": [-8.6, 3.27], "nice": false, "zero": false}, "axis": null}
   }},
  {"data": {"values": [{"label": "(b)"}]},
   "mark": {"type": "text", "align": "center", "baseline": "middle", "fontSize": 28, "font": "DejaVu Sans", "color": "#222"},
   "encoding": {
    "text": {"field": "label"},
    "x": {"datum": 3.756, "type": "quantitative", "scale": {"domain": [-0.881, 4.256], "nice": false, "zero": false}, "axis": {"orient": "top", "values": [-0.5,0.5,1.5,2.5,3.5], "tickSize": -6, "labels": false, "title": null}},
    "y": {"datum": 1.1, "type": "quantitative", "scale": {"domain": [-8.6, 3.27], "nice": false, "zero": false}, "axis": null}
   }}
 ]
}
]
}
